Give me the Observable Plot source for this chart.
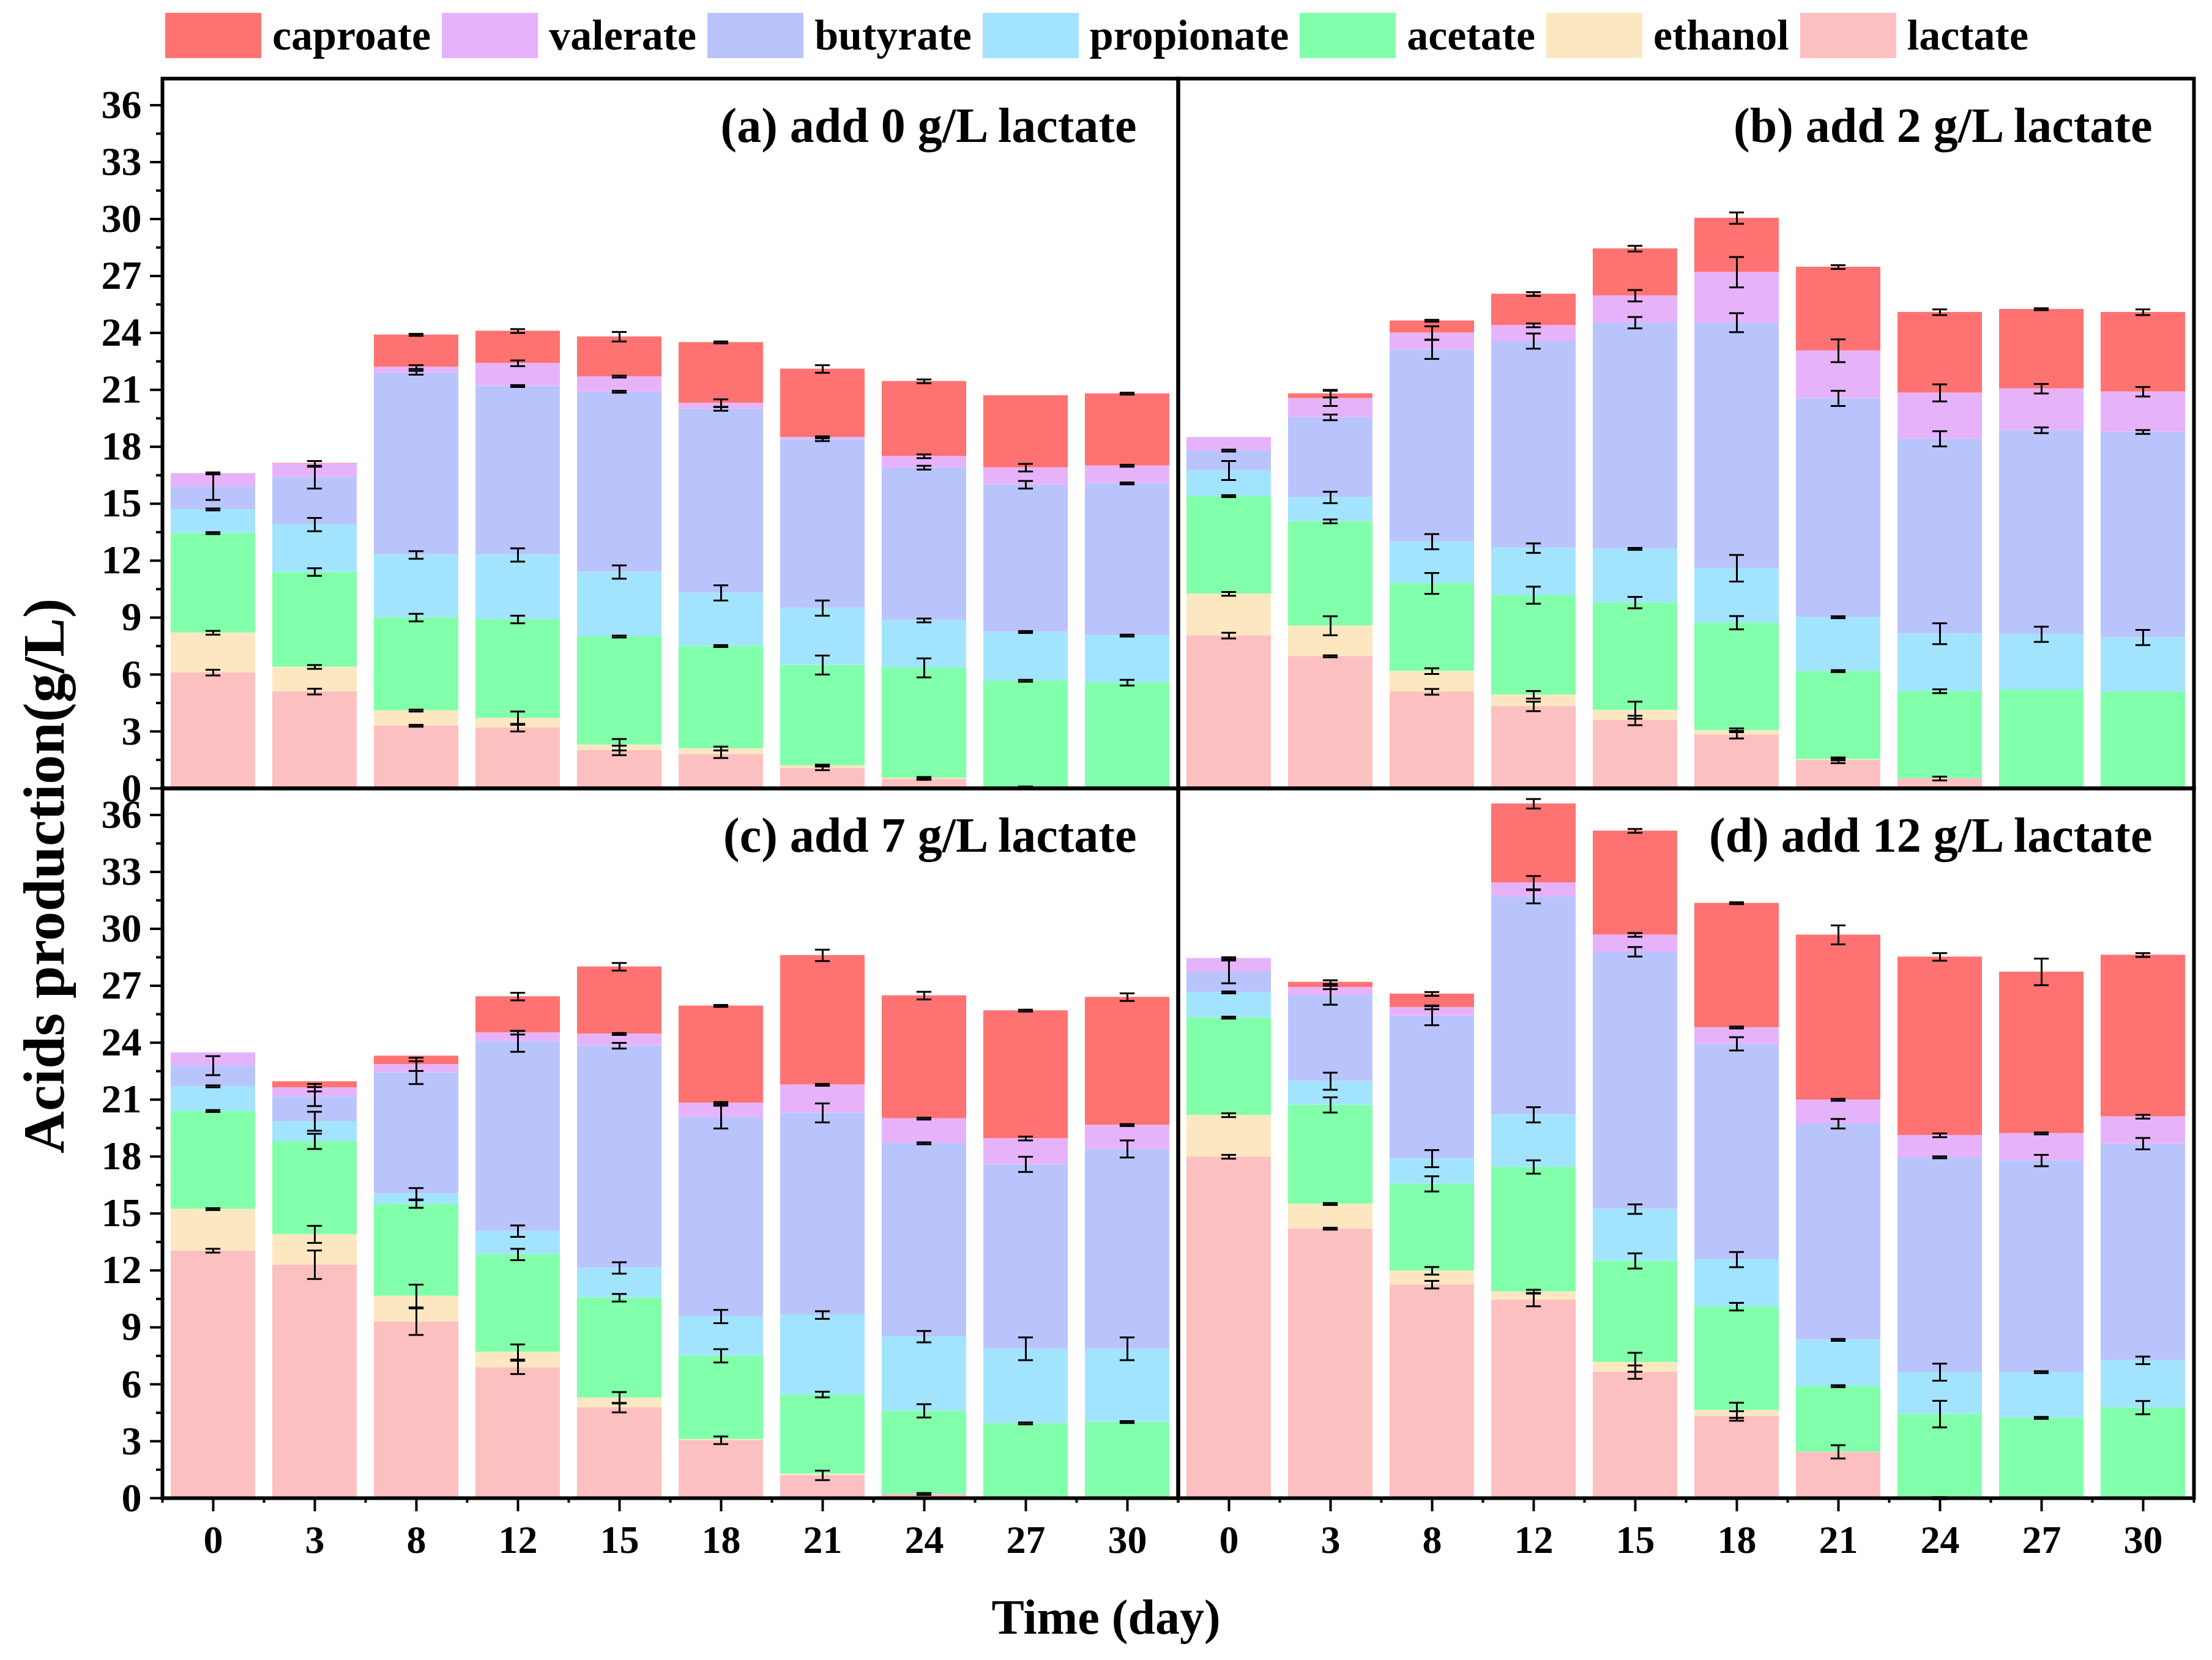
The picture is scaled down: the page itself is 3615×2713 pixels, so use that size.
<!DOCTYPE html>
<html>
<head>
<meta charset="utf-8">
<script src="https://cdn.jsdelivr.net/npm/d3@7"></script>
<script src="https://cdn.jsdelivr.net/npm/@observablehq/plot@0.6"></script>
<style>
  body { margin: 0; background: #fff; font-family: "Liberation Serif", "Times New Roman", serif; font-weight: bold; }
  #legend { display: flex; align-items: center; height: 110px; padding: 6px 0 0 270px; box-sizing: border-box; }
  .item { display: flex; align-items: center; margin-right: 18px; }
  .sw { width: 157px; height: 74px; margin-right: 18px; }
  .lab { font-size: 70px; color: #000; }
</style>
</head>
<body>
<div id="legend"></div>
<div id="chart"></div>
<script>
// sampling days (x categories)
const days = ['0', '3', '8', '12', '15', '18', '21', '24', '27', '30'];

// stack order, bottom to top
const series = ['lactate', 'ethanol', 'acetate', 'propionate', 'butyrate', 'valerate', 'caproate'];
const colors = ['#fdc0c0', '#fde7c1', '#82ffab', '#a2e4fe', '#b9c4fd', '#e6b3fb', '#ff7272'];
const legendOrder = ['caproate', 'valerate', 'butyrate', 'propionate', 'acetate', 'ethanol', 'lactate'];

const titles = ['(a) add 0 g/L lactate', '(b) add 2 g/L lactate', '(c) add 7 g/L lactate', '(d) add 12 g/L lactate'];

// g/L per component, rows follow `series`, columns follow `days`
const valuesA = [
  [6.1, 5.1, 3.3, 3.2, 2.0, 1.8, 1.06, 0.5, 0.05, 0],
  [2.1, 1.3, 0.8, 0.5, 0.3, 0.3, 0.14, 0.05, 0, 0],
  [5.25, 5.0, 4.9, 5.2, 5.7, 5.4, 5.3, 5.8, 5.62, 5.57],
  [1.25, 2.5, 3.3, 3.4, 3.4, 2.8, 3.0, 2.5, 2.57, 2.48],
  [1.2, 2.5, 9.6, 8.9, 9.5, 9.7, 8.9, 8.05, 7.76, 8.02],
  [0.7, 0.7, 0.3, 1.2, 0.8, 0.3, 0.1, 0.6, 0.9, 0.93],
  [0, 0.03, 1.7, 1.7, 2.1, 3.2, 3.6, 3.95, 3.8, 3.8]
];
const valuesB = [
  [8.05, 6.96, 5.09, 4.32, 3.58, 2.83, 1.48, 0.52, 0, 0],
  [2.2, 1.61, 1.09, 0.61, 0.54, 0.23, 0.05, 0, 0, 0],
  [5.15, 5.5, 4.62, 5.25, 5.67, 5.67, 4.65, 4.6, 5.19, 5.09],
  [1.35, 1.26, 2.2, 2.48, 2.83, 2.87, 2.84, 3.03, 2.93, 2.86],
  [1.05, 4.22, 10.13, 10.91, 11.92, 12.94, 11.53, 10.27, 10.75, 10.83],
  [0.7, 1.0, 0.87, 0.83, 1.42, 2.66, 2.51, 2.42, 2.19, 2.12],
  [0, 0.25, 0.64, 1.65, 2.48, 2.85, 4.41, 4.25, 4.19, 4.19]
];
const valuesC = [
  [13.04, 12.3, 9.3, 6.89, 4.77, 3.05, 1.2, 0.22, 0, 0],
  [2.19, 1.6, 1.35, 0.81, 0.52, 0.05, 0.08, 0, 0, 0],
  [5.17, 4.9, 4.85, 5.14, 5.27, 4.4, 4.18, 4.38, 3.94, 4.01],
  [1.3, 1.06, 0.54, 1.23, 1.57, 2.07, 4.19, 3.91, 3.93, 3.86],
  [1.09, 1.3, 6.38, 10.0, 11.71, 10.51, 10.65, 10.19, 9.72, 10.53],
  [0.68, 0.47, 0.44, 0.46, 0.62, 0.74, 1.48, 1.3, 1.36, 1.26],
  [0, 0.32, 0.44, 1.9, 3.54, 5.12, 6.82, 6.48, 6.74, 6.74]
];
const valuesD = [
  [17.99, 14.2, 11.25, 10.46, 6.64, 4.33, 2.44, 0, 0, 0],
  [2.19, 1.3, 0.73, 0.42, 0.52, 0.3, 0, 0, 0, 0],
  [5.14, 5.22, 4.58, 6.57, 5.34, 5.46, 3.46, 4.43, 4.23, 4.77],
  [1.33, 1.25, 1.33, 2.75, 2.73, 2.48, 2.44, 2.21, 2.41, 2.49],
  [1.08, 4.53, 7.53, 11.49, 13.56, 11.37, 11.39, 11.32, 11.15, 11.42],
  [0.72, 0.42, 0.44, 0.74, 0.89, 0.86, 1.26, 1.16, 1.43, 1.42],
  [0, 0.27, 0.71, 4.16, 5.48, 6.55, 8.69, 9.4, 8.51, 8.52]
];

// error bar half-widths at the top of each layer (same layout)
const errorsA = [
  [0.15, 0.15, 0.05, 0.2, 0.25, 0.2, 0.1, 0.05, 0.05, 0],
  [0.1, 0.1, 0.05, 0.35, 0.3, 0.1, 0.05, 0.05, 0, 0],
  [0.05, 0.2, 0.2, 0.2, 0.05, 0.05, 0.5, 0.5, 0.05, 0.15],
  [0.05, 0.35, 0.2, 0.35, 0.35, 0.4, 0.4, 0.1, 0.05, 0.05],
  [0.7, 0.6, 0.1, 0.05, 0.05, 0.1, 0.1, 0.1, 0.2, 0.05],
  [0.05, 0.15, 0.1, 0.15, 0.05, 0.2, 0.05, 0.1, 0.2, 0.05],
  [0, 0, 0.05, 0.1, 0.25, 0.05, 0.2, 0.1, 0, 0.05]
];
const errorsB = [
  [0.15, 0.05, 0.15, 0.25, 0.25, 0.2, 0.15, 0.1, 0, 0],
  [0.1, 0.5, 0.15, 0.2, 0.45, 0.1, 0.05, 0, 0, 0],
  [0.05, 0.1, 0.55, 0.45, 0.3, 0.35, 0.05, 0.1, 0, 0],
  [0.5, 0.3, 0.4, 0.25, 0.05, 0.7, 0.05, 0.55, 0.4, 0.4],
  [0.05, 0.15, 0.5, 0.4, 0.3, 0.5, 0.4, 0.4, 0.15, 0.1],
  [0, 0.4, 0.35, 0.1, 0.3, 0.8, 0.6, 0.45, 0.25, 0.25],
  [0, 0.2, 0.05, 0.1, 0.15, 0.3, 0.1, 0.15, 0.05, 0.15]
];
const errorsC = [
  [0.1, 0.75, 0.7, 0.35, 0.25, 0.2, 0.25, 0.05, 0, 0],
  [0.05, 0.45, 0.6, 0.4, 0.3, 0, 0, 0, 0, 0],
  [0.05, 0.4, 0.2, 0.3, 0.2, 0.35, 0.15, 0.35, 0.05, 0.05],
  [0.05, 0.5, 0.3, 0.3, 0.3, 0.35, 0.2, 0.3, 0.6, 0.6],
  [0.5, 0.5, 0.6, 0.55, 0.15, 0.6, 0.5, 0.05, 0.4, 0.45],
  [0, 0.2, 0.35, 0.1, 0.05, 0.05, 0.05, 0.05, 0.1, 0.05],
  [0, 0, 0, 0.2, 0.2, 0.05, 0.3, 0.2, 0.05, 0.2]
];
const errorsD = [
  [0.1, 0.05, 0.2, 0.35, 0.35, 0.25, 0.35, 0.05, 0, 0],
  [0.1, 0.05, 0.2, 0.1, 0.5, 0.4, 0, 0, 0, 0],
  [0.05, 0.4, 0.4, 0.35, 0.4, 0.2, 0.05, 0.7, 0.05, 0.35],
  [0.05, 0.45, 0.45, 0.4, 0.25, 0.4, 0.05, 0.45, 0.05, 0.2],
  [0.6, 0.5, 0.5, 0.35, 0.25, 0.35, 0.25, 0.05, 0.3, 0.3],
  [0.05, 0.1, 0.1, 0.35, 0.1, 0.05, 0.05, 0.1, 0.05, 0.1],
  [0, 0.1, 0.1, 0.25, 0.1, 0.05, 0.5, 0.2, 0.7, 0.1]
];

const yMajor = d3.range(0, 37, 3);
const yMinor = d3.range(1.5, 36, 3);

// legend
const legend = d3.select('#legend');
legendOrder.forEach(s => {
  const item = legend.append('div').attr('class', 'item');
  item.append('div').attr('class', 'sw').style('background', colors[series.indexOf(s)]);
  item.append('div').attr('class', 'lab').text(s);
});

// long table: one row per panel/day/component, with running top for error bars
const panels = [
  {values: valuesA, errors: errorsA, col: 0, row: 0},
  {values: valuesB, errors: errorsB, col: 1, row: 0},
  {values: valuesC, errors: errorsC, col: 0, row: 1},
  {values: valuesD, errors: errorsD, col: 1, row: 1}
];
const rows = [];
panels.forEach(p => {
  days.forEach((day, di) => {
    let top = 0;
    series.forEach((s, si) => {
      const value = p.values[si][di];
      top += value;
      rows.push({col: p.col, row: p.row, day, series: s, value, top, err: p.errors[si][di]});
    });
  });
});
const errRows = rows.filter(d => d.err > 0);
const titleRows = panels.map((p, i) => ({col: p.col, row: p.row, title: titles[i]}));

const facet = {fx: 'col', fy: 'row'};
const W = 3615, mL = 265, mR = 30;
const step = (W - mL - mR) / 2 / days.length;
const capInset = (step * 0.83 - 24) / 2;

const chart = Plot.plot({
  width: W,
  height: 2603,
  marginLeft: mL,
  marginRight: mR,
  marginTop: 17,
  marginBottom: 265,
  style: {fontFamily: '"Liberation Serif", "Times New Roman", serif', fontWeight: 'bold', color: '#000'},
  fx: {padding: 0, axis: null},
  fy: {padding: 0, axis: null},
  x: {domain: days, paddingInner: 0.17, paddingOuter: 0.085},
  y: {domain: [0, 37.4]},
  color: {domain: series, range: colors},
  marks: [
    Plot.barY(rows, {...facet, x: 'day', y: 'value', fill: 'series', order: series}),
    Plot.ruleX(errRows, {...facet, x: 'day', y1: d => d.top - d.err, y2: d => d.top + d.err, stroke: '#000', strokeWidth: 3}),
    Plot.tickY(errRows, {...facet, x: 'day', y: d => d.top - d.err, insetLeft: capInset, insetRight: capInset, stroke: '#000', strokeWidth: 3}),
    Plot.tickY(errRows, {...facet, x: 'day', y: d => d.top + d.err, insetLeft: capInset, insetRight: capInset, stroke: '#000', strokeWidth: 3}),
    Plot.frame({stroke: '#000', strokeWidth: 6}),
    Plot.axisY(yMajor, {tickSize: 20, tickPadding: 14, fontSize: 66, strokeWidth: 4, label: null}),
    Plot.axisY(yMinor, {tickSize: 10, tickFormat: () => '', strokeWidth: 4, label: null}),
    Plot.axisX({tickSize: 22, tickPadding: 22, fontSize: 64, strokeWidth: 4, label: null}),
    Plot.axisX(days, {tickSize: 8, tickFormat: () => '', dx: step / 2, strokeWidth: 4, label: null}),
    Plot.axisX([days[0]], {tickSize: 8, tickFormat: () => '', dx: -step / 2, strokeWidth: 4, label: null}),
    Plot.text(titleRows, {...facet, text: 'title', frameAnchor: 'top-right', textAnchor: 'end', lineAnchor: 'middle', dx: -68, dy: 78, fontSize: 80, fontWeight: 'bold'}),
    Plot.text(['Acids production(g/L)'], {facet: 'super', frameAnchor: 'left', textAnchor: 'middle', rotate: -90, lineAnchor: 'middle', dx: -192, dy: 143, fontSize: 96, fontWeight: 'bold'}),
    Plot.text(['Time (day)'], {facet: 'super', frameAnchor: 'bottom', textAnchor: 'middle', lineAnchor: 'middle', dx: -118, dy: 196, fontSize: 80, fontWeight: 'bold'})
  ]
});

d3.select('#chart').append(() => chart);
</script>
</body>
</html>
